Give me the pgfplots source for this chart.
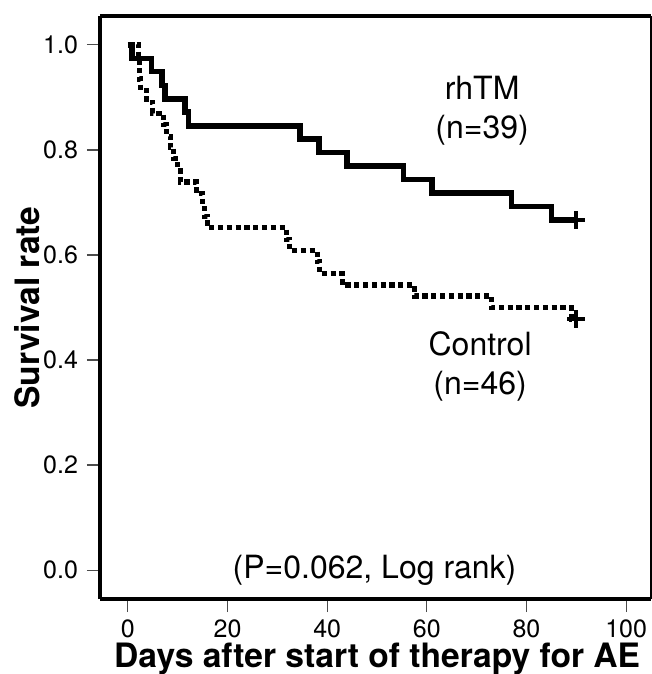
\documentclass[border=0pt]{standalone}
\usepackage{fontspec}
\setmainfont{TeX Gyre Heros}
\usepackage{pgfplots}
\pgfplotsset{compat=1.18}

% Kaplan-Meier curves: day, survival after that day
\pgfplotstableread{
day   surv
0     1.000
0.8   0.974
4.7   0.949
6.8   0.923
7.4   0.897
11.5  0.872
12.2  0.846
34.5  0.821
38.3  0.795
44.0  0.769
55.3  0.744
61.0  0.718
77.0  0.692
85.0  0.667
90.0  0.667
}\rhtm

\pgfplotstableread{
day   surv
0     1.000
2.2   0.978
2.3   0.957
2.4   0.935
2.6   0.913
3.8   0.891
5.0   0.870
7.2   0.848
7.8   0.826
8.5   0.804
9.2   0.783
10.0  0.761
10.5  0.739
13.8  0.717
15.0  0.696
15.3  0.674
16.0  0.652
31.8  0.630
32.5  0.609
38.0  0.587
38.5  0.565
43.0  0.543
57.5  0.522
73.0  0.500
89.0  0.478
90.0  0.478
}\control

\begin{document}
\begin{tikzpicture}
\begin{axis}[
    scale only axis,
    width=275.5pt, height=291.5pt,
    xmin=-5.6, xmax=105,
    ymin=-0.055, ymax=1.055,
    axis x line*=bottom, axis y line*=left,
    axis line style={line width=2pt, -},
    xtick={0,20,...,100},
    ytick={0,0.2,0.4,0.6,0.8,1.0},
    yticklabel style={xshift=-1pt, /pgf/number format/.cd, fixed, fixed zerofill, precision=1},
    /pgf/number format/assume math mode=true,
    tick align=outside,
    major tick length=6.5pt,
    tick style={gray!60!black, line width=0.6pt},
    ticklabel style={font=\fontsize{12.5pt}{14pt}\selectfont},
    xticklabel style={anchor=base, inner ysep=0pt, yshift=-12.5pt},
    xlabel={Days after start of therapy for AE},
    ylabel={Survival rate},
    label style={font=\fontsize{16.8pt}{18pt}\selectfont\bfseries},
    xlabel style={at={(rel axis cs:0.503,-0.118)}, anchor=base, inner ysep=0pt},
    ylabel style={at={(rel axis cs:-0.109,0.5)}, anchor=base},
    clip=false,
]
\addplot[const plot, black, line width=2.8pt] table[x=day, y=surv] {\rhtm};
\addplot[const plot, black, line width=2.6pt, dash pattern=on 2.6pt off 1.8pt] table[x=day, y=surv] {\control};
\addplot[only marks, mark=+, mark size=4.5pt, line width=2pt, black] coordinates {(90,0.667) (90,0.478)};

\node[align=center, font=\fontsize{16pt}{19.5pt}\selectfont] at (axis cs:71.1,0.875) {rhTM\\(n=39)};
\node[align=center, font=\fontsize{16pt}{19.5pt}\selectfont] at (axis cs:70.7,0.387) {Control\\(n=46)};
\node[font=\fontsize{16pt}{19pt}\selectfont] at (axis cs:49.5,0.0) {(P=0.062, Log rank)};

\draw[line width=2pt] (rel axis cs:0,1) -- (rel axis cs:1,1);
\draw[line width=0.6pt] (rel axis cs:1,0) -- (rel axis cs:1,1);
\coordinate (sw) at (rel axis cs:0,0);
\coordinate (ne) at (rel axis cs:1,1);
\end{axis}
\pgfresetboundingbox
\path[use as bounding box] ([shift={(-50pt,-37.5pt)}]sw) rectangle ([shift={(0.5pt,8pt)}]ne);
\end{tikzpicture}
\end{document}
